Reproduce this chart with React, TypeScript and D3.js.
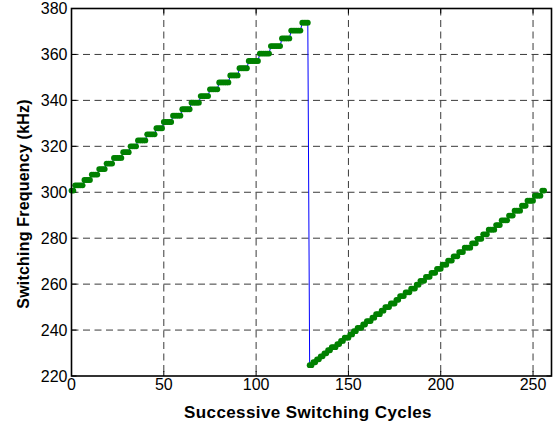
import React from 'react';
import * as d3 from 'd3';

// Step levels (kHz) and how many successive cycles stay at each level
const seg1Start = 0;
const seg1Levels = [300.75, 303.03, 305.34, 307.69, 310.08, 312.5, 314.96, 317.46, 320.0, 322.58, 325.2, 327.87, 330.58, 333.33, 336.13, 338.98, 341.88, 344.83, 347.83, 350.88, 353.98, 357.14, 360.36, 363.64, 366.97, 370.37, 373.83];
const seg1Runs = [2, 5, 4, 4, 4, 4, 5, 4, 4, 5, 5, 4, 5, 5, 5, 5, 5, 5, 6, 5, 5, 6, 6, 6, 5, 6, 4];

const seg2Start = 129;
const seg2Levels = [224.72, 225.99, 227.27, 228.57, 229.89, 231.21, 232.56, 233.92, 235.29, 236.69, 238.1, 239.52, 240.96, 242.42, 243.9, 245.4, 246.91, 248.45, 250.0, 251.57, 253.16, 254.78, 256.41, 258.06, 259.74, 261.44, 263.16, 264.9, 266.67, 268.46, 270.27, 272.11, 273.97, 275.86, 277.78, 279.72, 281.69, 283.69, 285.71, 287.77, 289.86, 291.97, 294.12, 296.3, 298.51, 300.75];
const seg2Runs = [2, 2, 2, 2, 2, 2, 3, 2, 2, 3, 2, 2, 3, 2, 3, 2, 3, 2, 3, 3, 2, 3, 3, 3, 2, 3, 3, 3, 3, 3, 3, 3, 3, 4, 3, 3, 3, 4, 3, 4, 3, 4, 3, 4, 4, 2];

const xTicks = [0, 50, 100, 150, 200, 250];
const yTicks = [220, 240, 260, 280, 300, 320, 340, 360, 380];
const xDomain = [0, 260];
const yDomain = [220, 380];

function expand(start: number, levels: number[], runs: number[]) {
  const pts: [number, number][] = [];
  let n = start;
  levels.forEach((lv, i) => {
    for (let k = 0; k < runs[i]; k++) {
      pts.push([n, lv]);
      n++;
    }
  });
  return pts;
}

export default function App() {
  const W = 556, H = 427;
  const L = 71.5, R = 551.5, T = 8.5, B = 376;
  const x = d3.scaleLinear().domain(xDomain).range([L, R]);
  const y = d3.scaleLinear().domain(yDomain).range([B, T]);
  const data = [...expand(seg1Start, seg1Levels, seg1Runs), ...expand(seg2Start, seg2Levels, seg2Runs)];
  const line = d3.line<[number, number]>().x(d => x(d[0])).y(d => y(d[1]));
  const font = 'Arial, "Liberation Sans", Helvetica, sans-serif';
  const gridColor = '#3a3a3a';
  const tl = 5;

  return (
    <svg width={W} height={H} style={{ position: 'absolute', left: 0, top: 0, background: '#fff' }} fontFamily={font}>
      <rect x={0} y={0} width={W} height={H} fill="#fff" />
      {/* grid */}
      {xTicks.filter(t => t > xDomain[0] && t < xDomain[1]).map(t => (
        <line key={'gx' + t} x1={x(t)} x2={x(t)} y1={T} y2={B} stroke={gridColor} strokeWidth={1} strokeDasharray="7,4.5" />
      ))}
      {yTicks.filter(t => t > yDomain[0] && t < yDomain[1]).map(t => (
        <line key={'gy' + t} x1={L} x2={R} y1={y(t)} y2={y(t)} stroke={gridColor} strokeWidth={1} strokeDasharray="7,4.5" />
      ))}
      {/* ticks */}
      {xTicks.map(t => (
        <g key={'tx' + t}>
          <line x1={x(t)} x2={x(t)} y1={B} y2={B - tl} stroke="#000" strokeWidth={1} />
          <line x1={x(t)} x2={x(t)} y1={T} y2={T + tl} stroke="#000" strokeWidth={1} />
          <text x={x(t)} y={390} textAnchor="middle" fontSize={16} fill="#000">{t}</text>
        </g>
      ))}
      {yTicks.map(t => (
        <g key={'ty' + t}>
          <line x1={L} x2={L + tl} y1={y(t)} y2={y(t)} stroke="#000" strokeWidth={1} />
          <line x1={R} x2={R - tl} y1={y(t)} y2={y(t)} stroke="#000" strokeWidth={1} />
          <text x={67.5} y={y(t) + 5.5} textAnchor="end" fontSize={16} fill="#000">{t}</text>
        </g>
      ))}
      {/* data */}
      <path d={line(data) || ''} fill="none" stroke="#0000ff" strokeWidth={1} />
      {data.map((d, i) => (
        <circle key={i} cx={x(d[0])} cy={y(d[1])} r={2.9} fill="#008000" />
      ))}
      {/* box */}
      <rect x={L} y={T} width={R - L} height={B - T} fill="none" stroke="#000" strokeWidth={1.6} />
      {/* labels */}
      <text x={308} y={418} textAnchor="middle" fontSize={17} letterSpacing={0.4} fontWeight="bold" fill="#000">Successive Switching Cycles</text>
      <text transform={`translate(28.5,204) rotate(-90)`} textAnchor="middle" fontSize={16} letterSpacing={0.2} fontWeight="bold" fill="#000">Switching Frequency (kHz)</text>
    </svg>
  );
}
